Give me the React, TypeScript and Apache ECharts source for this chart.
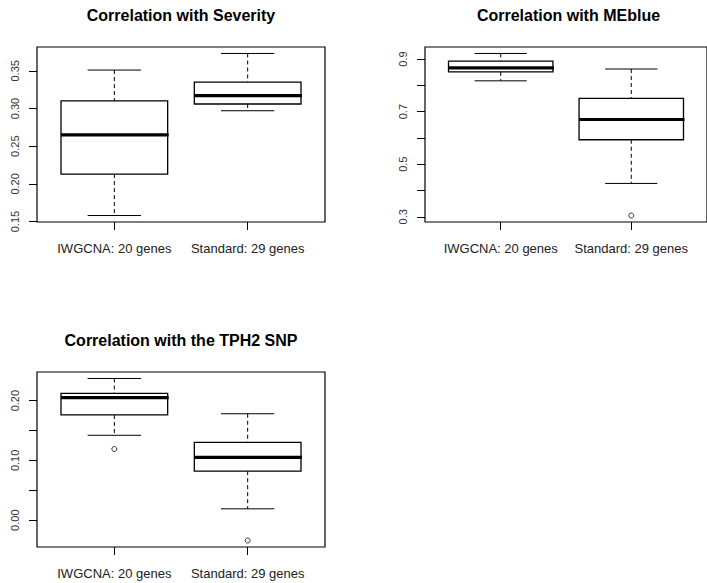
import React, { useEffect, useRef } from "react";
import * as echarts from "echarts";

const categories = ["IWGCNA: 20 genes", "Standard: 29 genes"];

// [min whisker, Q1, median, Q3, max whisker]
const severityStats = [
  [0.158, 0.213, 0.265, 0.31, 0.351],
  [0.297, 0.306, 0.317, 0.335, 0.373],
];
const severityOutliers: number[][] = [];
const severityTicks = [0.15, 0.2, 0.25, 0.3, 0.35];
const severityLabels = [0.15, 0.2, 0.25, 0.3, 0.35];

const meblueStats = [
  [0.817, 0.851, 0.866, 0.892, 0.921],
  [0.427, 0.593, 0.67, 0.75, 0.862],
];
const meblueOutliers = [[2, 0.305]];
const meblueTicks = [0.3, 0.4, 0.5, 0.6, 0.7, 0.8, 0.9];
const meblueLabels = [0.3, 0.5, 0.7, 0.9];

const tph2Stats = [
  [0.142, 0.176, 0.205, 0.212, 0.237],
  [0.019, 0.082, 0.105, 0.13, 0.178],
];
const tph2Outliers = [[1, 0.119], [2, -0.034]];
const tph2Ticks = [0, 0.05, 0.1, 0.15, 0.2];
const tph2Labels = [0, 0.1, 0.2];

const panels = [
  { title: "Correlation with Severity", stats: severityStats, outliers: severityOutliers, ticks: severityTicks, labels: severityLabels, digits: 2, grid: { left: 37, top: 47, width: 288, height: 175 } },
  { title: "Correlation with MEblue", stats: meblueStats, outliers: meblueOutliers, ticks: meblueTicks, labels: meblueLabels, digits: 1, grid: { left: 425, top: 47, width: 287, height: 175 } },
  { title: "Correlation with the TPH2 SNP", stats: tph2Stats, outliers: tph2Outliers, ticks: tph2Ticks, labels: tph2Labels, digits: 2, grid: { left: 37, top: 372, width: 288, height: 175 } },
];

const FONT = "Liberation Sans, Arial, sans-serif";

export default function App() {
  const ref = useRef<HTMLDivElement>(null);
  useEffect(() => {
    if (!ref.current) return;
    const chart = echarts.init(ref.current, null, { renderer: "svg" });
    const grids: any[] = [];
    const xAxes: any[] = [];
    const yAxes: any[] = [];
    const series: any[] = [];
    const titles: any[] = [];
    panels.forEach((p, i) => {
      const all: number[] = [];
      p.stats.forEach((s) => all.push(s[0], s[4]));
      p.outliers.forEach((o) => all.push(o[1]));
      const lo = Math.min(...all);
      const hi = Math.max(...all);
      const pad = (hi - lo) * 0.04;
      grids.push({ ...p.grid, show: true, borderColor: "#000", borderWidth: 1.2, backgroundColor: "transparent" });
      titles.push({
        text: p.title,
        left: p.grid.left + p.grid.width / 2,
        top: p.grid.top - 40,
        textAlign: "center",
        padding: 0,
        textStyle: { fontFamily: FONT, fontSize: 16, fontWeight: "bold", color: "#000" },
      });
      xAxes.push({
        type: "value",
        gridIndex: i,
        min: 0.42,
        max: 2.58,
        axisLine: { show: false, onZero: false },
        splitLine: { show: false },
        axisTick: { show: true, customValues: [1, 2], length: 8, lineStyle: { color: "#000", width: 1 } },
        axisLabel: {
          show: true,
          customValues: [1, 2],
          formatter: (v: number) => categories[Math.round(v) - 1] ?? "",
          fontFamily: FONT,
          fontSize: 13,
          color: "#222",
          margin: 20,
        },
      });
      yAxes.push({
        type: "value",
        gridIndex: i,
        min: lo - pad,
        max: hi + pad,
        axisLine: { show: false, onZero: false },
        splitLine: { show: false },
        axisTick: { show: true, customValues: p.ticks, length: 8, lineStyle: { color: "#000", width: 1 } },
        axisLabel: {
          show: true,
          customValues: p.labels,
          rotate: 90,
          formatter: (v: number) => v.toFixed(p.digits),
          fontFamily: FONT,
          fontSize: 11,
          color: "#333",
          margin: 17,
        },
      });
      series.push({
        type: "custom",
        xAxisIndex: i,
        yAxisIndex: i,
        clip: false,
        encode: { x: 0, y: [1, 2, 3, 4, 5] },
        data: p.stats.map((s, k) => [k + 1, ...s]),
        renderItem: (params: any, api: any) => {
          const x = api.value(0);
          const mn = api.value(1), q1 = api.value(2), md = api.value(3), q3 = api.value(4), mx = api.value(5);
          const tl = api.coord([x - 0.4, q3]);
          const br = api.coord([x + 0.4, q1]);
          const ml = api.coord([x - 0.4, md]);
          const mr = api.coord([x + 0.4, md]);
          const cTop = api.coord([x, mx]);
          const cQ3 = api.coord([x, q3]);
          const cQ1 = api.coord([x, q1]);
          const cBot = api.coord([x, mn]);
          const capTL = api.coord([x - 0.2, mx]);
          const capTR = api.coord([x + 0.2, mx]);
          const capBL = api.coord([x - 0.2, mn]);
          const capBR = api.coord([x + 0.2, mn]);
          const thin = { stroke: "#000", lineWidth: 1 };
          const dashed = { stroke: "#000", lineWidth: 1, lineDash: [4, 3] };
          return {
            type: "group",
            children: [
              { type: "line", shape: { x1: cTop[0], y1: cTop[1], x2: cQ3[0], y2: cQ3[1] }, style: dashed },
              { type: "line", shape: { x1: cQ1[0], y1: cQ1[1], x2: cBot[0], y2: cBot[1] }, style: dashed },
              { type: "line", shape: { x1: capTL[0], y1: capTL[1], x2: capTR[0], y2: capTR[1] }, style: thin },
              { type: "line", shape: { x1: capBL[0], y1: capBL[1], x2: capBR[0], y2: capBR[1] }, style: thin },
              {
                type: "rect",
                shape: { x: tl[0], y: tl[1], width: br[0] - tl[0], height: br[1] - tl[1] },
                style: { fill: "#fff", stroke: "#000", lineWidth: 1.3 },
              },
              { type: "line", shape: { x1: ml[0], y1: ml[1], x2: mr[0] + 1, y2: mr[1] }, style: { stroke: "#000", lineWidth: 3.2 } },
            ],
          };
        },
      });
      if (p.outliers.length) {
        series.push({
          type: "scatter",
          xAxisIndex: i,
          yAxisIndex: i,
          data: p.outliers,
          symbol: "circle",
          symbolSize: 5,
          itemStyle: { color: "#fff", borderColor: "#000", borderWidth: 1 },
          z: 5,
        });
      }
    });
    chart.setOption({
      animation: false,
      backgroundColor: "#fff",
      title: titles,
      grid: grids,
      xAxis: xAxes,
      yAxis: yAxes,
      series,
    });
    return () => chart.dispose();
  }, []);
  return <div ref={ref} style={{ position: "fixed", left: 0, top: 0, width: 707, height: 583, background: "#fff" }} />;
}
